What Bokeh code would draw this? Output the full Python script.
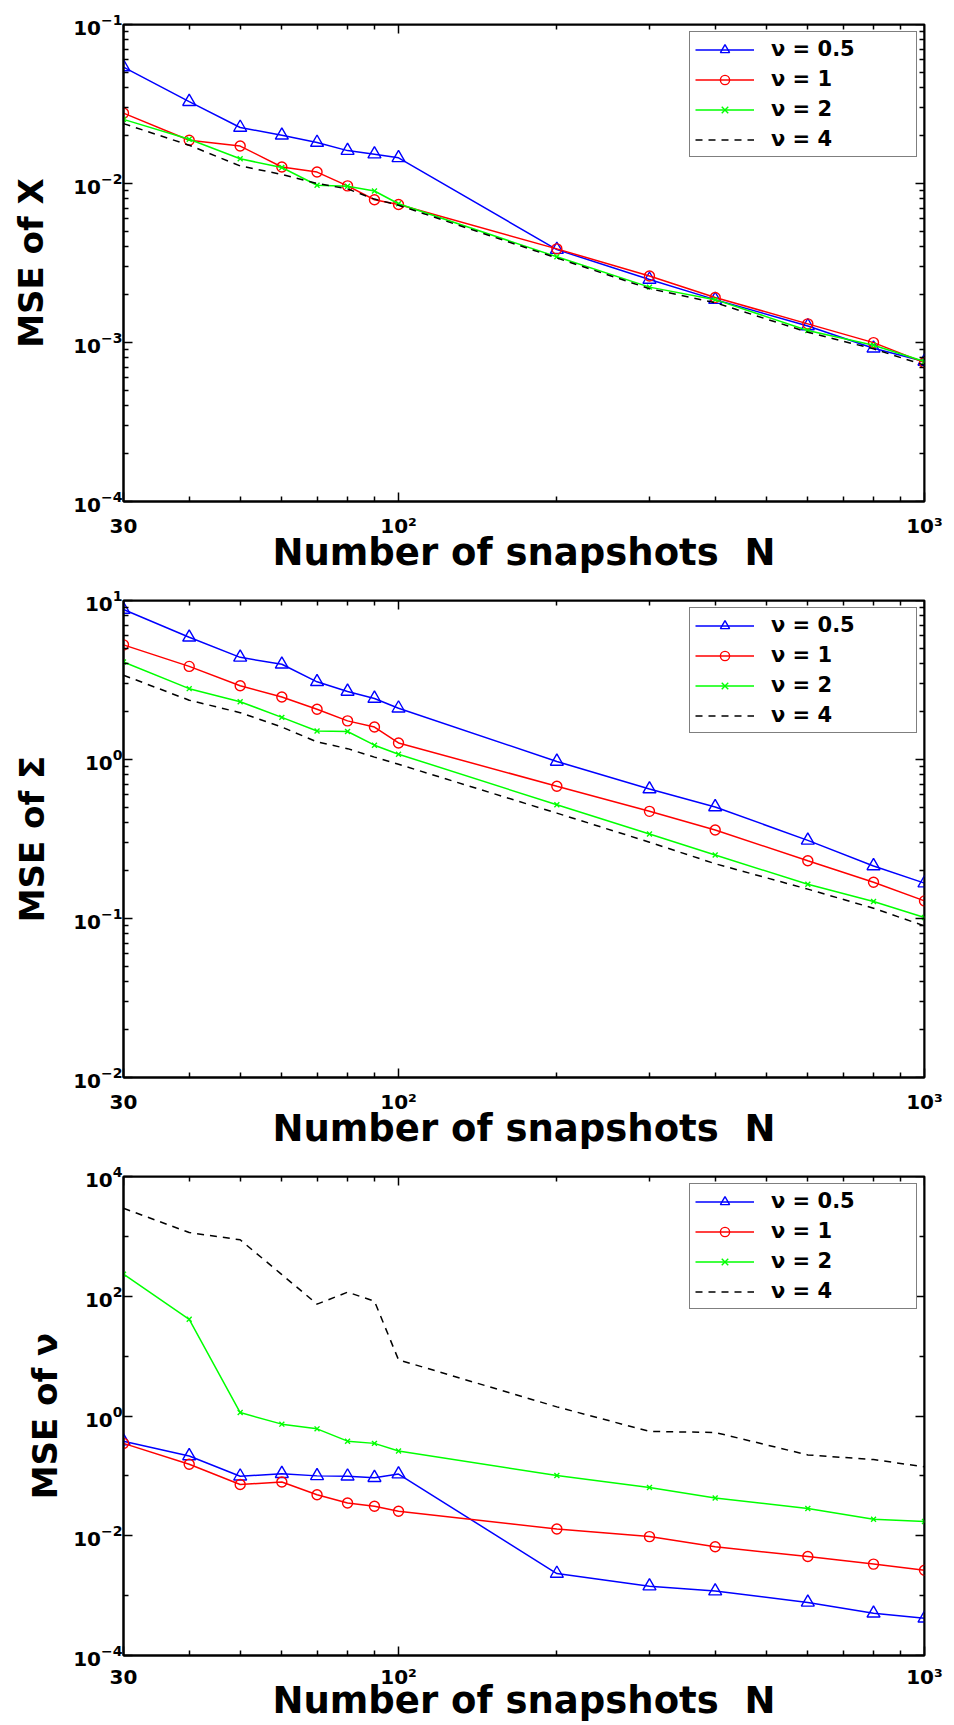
from bokeh.plotting import figure
from bokeh.models import LogAxis, FixedTicker, Range1d, CustomJSTickFormatter
from bokeh.layouts import column
from bokeh.embed import file_html
from bokeh.resources import INLINE

# ---------------- data ----------------
N = [30, 40, 50, 60, 70, 80, 90, 100, 200, 300, 400, 600, 800, 1000]
nu_labels = ["ν = 0.5", "ν = 1", "ν = 2", "ν = 4"]

mse_X_nu05 = [0.054, 0.0327, 0.0225, 0.0201, 0.0181, 0.0161, 0.0153, 0.0145, 0.00384, 0.00249, 0.00186, 0.00127, 0.00092, 0.00076]
mse_X_nu1 = [0.0277, 0.0187, 0.0172, 0.0127, 0.0118, 0.00966, 0.0079, 0.00738, 0.00388, 0.00262, 0.00192, 0.00131, 0.000998, 0.000747]
mse_X_nu2 = [0.0253, 0.019, 0.0143, 0.0126, 0.00975, 0.0096, 0.00897, 0.00746, 0.00346, 0.00223, 0.00186, 0.00119, 0.000962, 0.00076]
mse_X_nu4 = [0.0238, 0.0174, 0.0129, 0.0114, 0.0100, 0.00925, 0.00798, 0.0073, 0.0034, 0.00218, 0.00178, 0.00116, 0.000912, 0.00072]

mse_S_nu05 = [8.77, 5.87, 4.39, 3.97, 3.08, 2.68, 2.42, 2.10, 0.972, 0.652, 0.503, 0.31, 0.214, 0.167]
mse_S_nu1 = [5.26, 3.85, 2.91, 2.47, 2.07, 1.75, 1.60, 1.27, 0.679, 0.472, 0.36, 0.231, 0.169, 0.129]
mse_S_nu2 = [4.1, 2.79, 2.31, 1.84, 1.51, 1.50, 1.23, 1.08, 0.519, 0.34, 0.251, 0.164, 0.128, 0.1014]
mse_S_nu4 = [3.39, 2.36, 1.97, 1.60, 1.29, 1.17, 1.035, 0.933, 0.46, 0.302, 0.221, 0.153, 0.116, 0.0898]

mse_V_nu05 = [0.38, 0.215, 0.0986, 0.1087, 0.100, 0.0986, 0.0933, 0.107, 0.00234, 0.00144, 0.00119, 0.00077, 0.000507, 0.000418]
mse_V_nu1 = [0.349, 0.156, 0.0716, 0.0789, 0.0485, 0.0352, 0.0311, 0.0256, 0.01294, 0.00968, 0.00655, 0.0045, 0.00336, 0.00265]
mse_V_nu2 = [234, 41.2, 1.14, 0.731, 0.61, 0.38, 0.349, 0.261, 0.1014, 0.0641, 0.0428, 0.0286, 0.0188, 0.01734]
mse_V_nu4 = [2944, 1159, 877, 230, 73.8, 117, 82.6, 8.67, 1.42, 0.553, 0.531, 0.224, 0.187, 0.1416]

x_major = [30, 100, 1000]
x_major_labels = ["30", "10²", "10³"]
x_minor = [40, 50, 60, 70, 80, 90, 200, 300, 400, 500, 600, 700, 800, 900]
x_title = "Number of snapshots\u00a0\u00a0N"

FONT = "DejaVu Sans"


def decade_minors(lo_exp, hi_exp):
    out = []
    for e in range(lo_exp, hi_exp):
        for k in range(2, 10):
            out.append(k * 10.0 ** e)
    return out


def make_panel(series, ylo, yhi, ymajor, yminor, ylabel, height, bl, br, bt, bb,
               ylab_standoff, xtick_standoff, xlab_standoff):
    p = figure(width=954, height=height, x_axis_type="log", y_axis_type="log",
               x_range=Range1d(30, 1000), y_range=Range1d(ylo, yhi),
               output_backend="svg", toolbar_location=None,
               min_border_left=bl, min_border_right=br, min_border_top=bt, min_border_bottom=bb)
    p.xgrid.visible = False
    p.ygrid.visible = False
    p.outline_line_color = "black"
    p.outline_line_width = 2
    p.background_fill_color = "white"
    p.border_fill_color = "white"

    xt = FixedTicker(ticks=x_major, minor_ticks=x_minor)
    yt = FixedTicker(ticks=ymajor, minor_ticks=yminor)
    lab_map = {str(int(v)): s for v, s in zip(x_major, x_major_labels)}
    js_pairs = ", ".join('"%s": "%s"' % (k, v) for k, v in lab_map.items())
    xfmt = CustomJSTickFormatter(code="const m = {%s}; const k = String(Math.round(tick)); return (k in m) ? m[k] : k;" % js_pairs)

    for ax in p.xaxis:
        ax.ticker = xt
        ax.formatter = xfmt
        ax.major_label_standoff = xtick_standoff
        ax.axis_label = x_title
        ax.axis_label_text_font = FONT
        ax.axis_label_text_font_size = "37px"
        ax.axis_label_text_font_style = "bold"
        ax.axis_label_text_color = "black"
        ax.axis_label_standoff = xlab_standoff
    for ax in p.yaxis:
        ax.ticker = yt
        ax.major_label_standoff = 1
        ax.axis_label = ylabel
        ax.axis_label_text_font = FONT
        ax.axis_label_text_font_size = "34px"
        ax.axis_label_text_font_style = "bold"
        ax.axis_label_text_color = "black"
        ax.axis_label_standoff = ylab_standoff
    for ax in list(p.xaxis) + list(p.yaxis):
        ax.major_tick_in = 9
        ax.major_tick_out = 0
        ax.minor_tick_in = 5
        ax.minor_tick_out = 0
        ax.axis_line_width = 2
        ax.major_tick_line_width = 1.5
        ax.minor_tick_line_width = 1.5
        ax.major_label_text_font = FONT
        ax.major_label_text_font_size = "20px"
        ax.major_label_text_font_style = "bold"
        ax.major_label_text_color = "black"

    # tick marks on the right and top edges of the box (no labels, no extra space)
    blank = CustomJSTickFormatter(code="return ''")
    ax_r = LogAxis(ticker=yt, formatter=blank, fixed_location=1000, major_tick_in=9, major_tick_out=0,
                   minor_tick_in=5, minor_tick_out=0, axis_line_width=2,
                   major_tick_line_width=1.5, minor_tick_line_width=1.5,
                   major_label_text_font_size="1px", major_label_standoff=0)
    ax_t = LogAxis(ticker=xt, formatter=blank, fixed_location=yhi, major_tick_in=9, major_tick_out=0,
                   minor_tick_in=5, minor_tick_out=0, axis_line_width=2,
                   major_tick_line_width=1.5, minor_tick_line_width=1.5,
                   major_label_text_font_size="1px", major_label_standoff=0)
    p.add_layout(ax_r, "right")
    p.add_layout(ax_t, "above")

    styles = [
        dict(color="#0000ff", marker="triangle", size=13, dash="solid"),
        dict(color="#ff0000", marker="circle", size=10, dash="solid"),
        dict(color="#00ff00", marker="x", size=7, dash="solid"),
        dict(color="black", marker=None, size=0, dash="7 6"),
    ]
    for ys, st, lab in zip(series, styles, nu_labels):
        p.line(N, ys, line_color=st["color"], line_width=1.5, line_dash=st["dash"], legend_label=lab)
        if st["marker"]:
            p.scatter(N, ys, marker=st["marker"], size=st["size"], line_color=st["color"],
                      fill_color=None, line_width=1.4, legend_label=lab)

    lg = p.legend[0]
    lg.location = "top_right"
    lg.margin = 7
    lg.padding = 5
    lg.spacing = 6
    lg.label_height = 23
    lg.glyph_height = 23
    lg.glyph_width = 59
    lg.label_standoff = 17
    lg.label_width = 140
    lg.border_line_color = "black"
    lg.border_line_width = 1.5
    lg.label_text_font = FONT
    lg.label_text_font_size = "21px"
    lg.label_text_font_style = "bold"
    lg.label_text_color = "black"
    lg.background_fill_alpha = 1.0
    return p


p1 = make_panel([mse_X_nu05, mse_X_nu1, mse_X_nu2, mse_X_nu4], 1e-4, 1e-1,
                [1e-4, 1e-3, 1e-2, 1e-1], decade_minors(-4, -1), "MSE of X",
                576, 121, 23, 24, 68, 19, 12, -10)
p2 = make_panel([mse_S_nu05, mse_S_nu1, mse_S_nu2, mse_S_nu4], 1e-2, 1e1,
                [1e-2, 1e-1, 1e0, 1e1], decade_minors(-2, 1), "MSE of Σ",
                576, 123, 22, 24, 68, 18, 12, -10)
p3 = make_panel([mse_V_nu05, mse_V_nu1, mse_V_nu2, mse_V_nu4], 1e-4, 1e4,
                [1e-4, 1e-2, 1e0, 1e2, 1e4], [1e-3, 1e-1, 1e1, 1e3], "MSE of ν",
                572, 112, 30, 24, 62, 5, 9, -13)

layout = column(p1, p2, p3, spacing=0)
open("out.html", "w").write(file_html(layout, INLINE))
